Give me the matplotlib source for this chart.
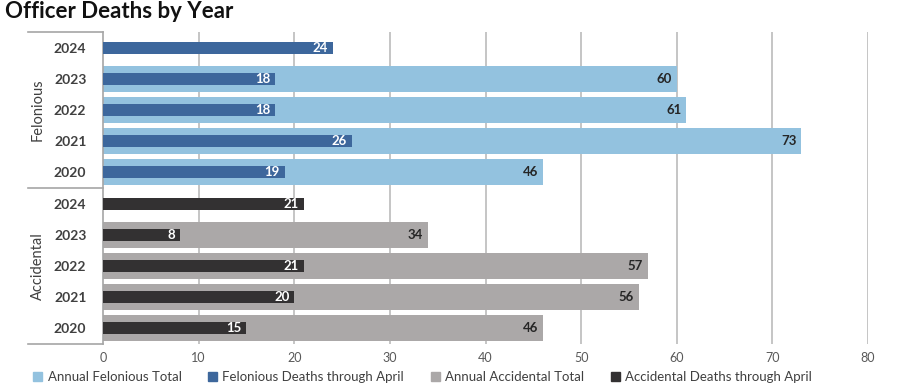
import matplotlib
matplotlib.use("Agg")
import matplotlib.pyplot as plt
from matplotlib.patches import Patch
import numpy as np

plt.rcParams['font.family'] = ['Lato', 'DejaVu Sans']

years = ["2024", "2023", "2022", "2021", "2020"]
groups = ["Felonious", "Accidental"]
fel_total = [None, 60, 61, 73, 46]
fel_april = [24, 18, 18, 26, 19]
acc_total = [None, 34, 57, 56, 46]
acc_april = [21, 8, 21, 20, 15]
xticks = [0, 10, 20, 30, 40, 50, 60, 70, 80]
legend_labels = ["Annual Felonious Total", "Felonious Deaths through April",
                 "Annual Accidental Total", "Accidental Deaths through April"]

c_ft = "#93C2DF"
c_fa = "#3D679C"
c_at = "#ABA8A8"
c_aa = "#333132"

fig = plt.figure(figsize=(9, 3.92), dpi=100)
ax = fig.add_axes([103/900, 1-344/392, 765/900, 312/392])

fel_pos = [9, 8, 7, 6, 5]
acc_pos = [4, 3, 2, 1, 0]

def draw(pos, totals, april, ct, ca):
    for p, t, a in zip(pos, totals, april):
        if t is not None:
            ax.barh(p, t, height=0.83, color=ct, zorder=2)
            ax.text(t - 0.5, p, str(t), ha='right', va='center', fontsize=9.5,
                    fontweight='bold', color='#262626', zorder=4)
        ax.barh(p, a, height=0.38, color=ca, zorder=3)
        ax.text(a - 0.5, p, str(a), ha='right', va='center', fontsize=9.5,
                fontweight='bold', color='white', zorder=4)

draw(fel_pos, fel_total, fel_april, c_ft, c_fa)
draw(acc_pos, acc_total, acc_april, c_at, c_aa)

ax.set_xlim(0, 80)
ax.set_ylim(-0.5, 9.5)
ax.set_xticks(xticks)
ax.set_xticklabels([str(x) for x in xticks], fontsize=9, color='#595959')
ax.tick_params(axis='x', length=0, pad=6)
ax.set_yticks(fel_pos + acc_pos)
ax.set_yticklabels(years + years, fontsize=10, fontweight='bold', color='#404040')
ax.tick_params(axis='y', length=0, pad=12)
for x in xticks[1:]:
    ax.axvline(x, color='#C0C0C0', lw=1.3, zorder=1)
for s in ['top', 'right', 'bottom']:
    ax.spines[s].set_visible(False)
ax.spines['left'].set_color('#A6A6A6')
ax.spines['left'].set_linewidth(1.2)

x0 = -(103-28)/765
for yf in [0, 0.5, 1.0]:
    ax.plot([x0, 0], [yf, yf], transform=ax.transAxes, color='#A6A6A6', lw=1.2, clip_on=False)

ax.text(-(103-38)/765, 0.75, groups[0], transform=ax.transAxes, rotation=90,
        ha='center', va='center', fontsize=10.5, color='#404040')
ax.text(-(103-38)/765, 0.25, groups[1], transform=ax.transAxes, rotation=90,
        ha='center', va='center', fontsize=10.5, color='#404040')

fig.text(5/900, 1-12/392, "Officer Deaths by Year", fontsize=16, fontweight='bold',
         color='#111111', ha='left', va='center')

handles = [Patch(color=c) for c in [c_ft, c_fa, c_at, c_aa]]
leg = fig.legend(handles, legend_labels, ncol=4, loc='center left',
                 bbox_to_anchor=(33/900, 1-377/392), frameon=False, fontsize=9.5,
                 handlelength=0.7, handleheight=0.7, handletextpad=0.4, columnspacing=2.0,
                 borderaxespad=0, borderpad=0)
for t in leg.get_texts():
    t.set_color('#404040')

fig.savefig("out.png", dpi=100)
